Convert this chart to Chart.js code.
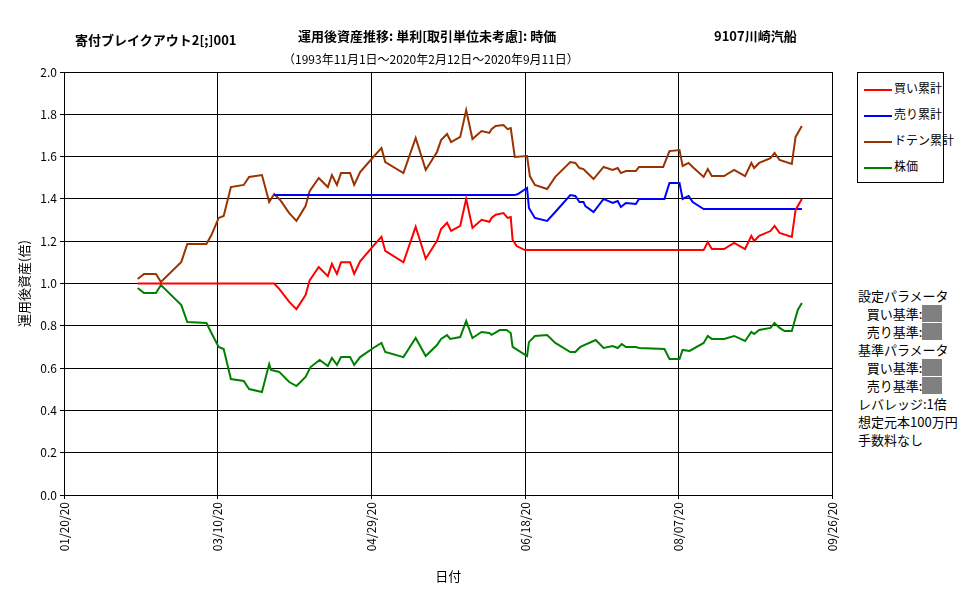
<!DOCTYPE html>
<html>
<head>
<meta charset="utf-8">
<script src="https://cdn.jsdelivr.net/npm/chart.js@4"></script>
<style>
body { margin:0; background:#fff; font-family:"Noto Sans CJK JP", sans-serif; color:#000; }
#wrap { position:relative; width:977px; height:600px; }
#c { position:absolute; left:0; top:0; }
.t { position:absolute; font-size:13px; white-space:nowrap; }
.b { font-weight:bold; }
#legend { position:absolute; left:857px; top:72px; width:85px; height:109px; border:1px solid #000; font-size:12px; }
#legend div { position:absolute; left:6px; white-space:nowrap; }
#legend span { display:inline-block; width:28px; height:2px; vertical-align:middle; margin-right:2px; }
#params { position:absolute; left:858px; top:287px; font-size:13px; line-height:18px; white-space:nowrap; }
.gray { display:inline-block; width:20px; height:17px; background:#808080; vertical-align:top; }
</style>
</head>
<body>
<div id="wrap">
<canvas id="c" width="850" height="600"></canvas>
<div class="t b" style="left:75px;top:30px;">寄付ブレイクアウト2[;]001</div>
<div class="t b" style="left:298px;top:26px;">運用後資産推移: 単利[取引単位未考慮]: 時価</div>
<div class="t b" style="left:714px;top:26px;">9107川崎汽船</div>
<div class="t" style="left:283px;top:50px;font-size:12px;">（1993年11月1日～2020年2月12日～2020年9月11日）</div>
<div id="legend"></div>
<div id="params">
設定パラメータ<br>
&nbsp;&nbsp;&nbsp;買い基準:<span class="gray"></span><br>
&nbsp;&nbsp;&nbsp;売り基準:<span class="gray"></span><br>
基準パラメータ<br>
&nbsp;&nbsp;&nbsp;買い基準:<span class="gray"></span><br>
&nbsp;&nbsp;&nbsp;売り基準:<span class="gray"></span><br>
レバレッジ:1倍<br>
想定元本100万円<br>
手数料なし
</div>
</div>
<script>
// x values = days since 01/20/20
const tickLabels = ['01/20/20', '03/10/20', '04/29/20', '06/18/20', '08/07/20', '09/26/20'];
const seriesNames = ['買い累計', '売り累計', 'ドテン累計', '株価'];
const seriesColors = ['#ff0000', '#0000ff', '#993300', '#008000'];

const buyDays = [23.5, 67.0, 68.6, 71.8, 74.1, 77.0, 78.3, 81.2, 84.1, 85.4, 87.0, 88.3, 91.2, 92.5, 94.4, 98.6, 101.2, 102.4, 108.2, 112.1, 115.3, 118.9, 120.2, 122.1, 123.4, 126.3, 128.2, 130.2, 133.1, 135.6, 136.3, 137.6, 140.1, 141.4, 142.4, 143.0, 144.3, 146.9, 203.9, 205.2, 206.5, 210.4, 213.6, 217.1, 219.1, 220.0, 221.6, 225.2, 226.5, 228.1, 232.0, 233.2, 235.2];
const buyVals = [1.0, 1.0, 0.975, 0.913, 0.879, 0.945, 1.015, 1.078, 1.035, 1.093, 1.045, 1.100, 1.100, 1.045, 1.105, 1.178, 1.221, 1.154, 1.100, 1.268, 1.117, 1.202, 1.258, 1.287, 1.249, 1.273, 1.400, 1.263, 1.301, 1.292, 1.310, 1.325, 1.333, 1.310, 1.314, 1.206, 1.177, 1.158, 1.158, 1.196, 1.163, 1.163, 1.192, 1.163, 1.225, 1.201, 1.225, 1.248, 1.272, 1.239, 1.220, 1.348, 1.400];

const sellDays = [67.0, 143.7, 144.7, 147.6, 148.2, 150.1, 154.0, 156.6, 161.4, 163.0, 164.3, 165.6, 166.2, 168.8, 172.0, 174.9, 176.5, 177.5, 179.1, 182.3, 183.3, 191.4, 193.0, 196.2, 197.2, 199.1, 200.4, 203.9, 235.2];
const sellVals = [1.418, 1.418, 1.423, 1.452, 1.357, 1.310, 1.296, 1.338, 1.418, 1.414, 1.385, 1.385, 1.366, 1.338, 1.400, 1.381, 1.390, 1.362, 1.381, 1.376, 1.400, 1.400, 1.475, 1.475, 1.400, 1.414, 1.385, 1.352, 1.352];

const dotenDays = [23.5, 25.5, 29.3, 30.9, 37.4, 39.3, 45.4, 47.0, 49.3, 50.9, 53.2, 57.3, 59.0, 63.1, 65.4, 67.0, 68.9, 71.8, 74.1, 77.0, 78.3, 81.2, 84.1, 85.4, 87.0, 88.3, 91.2, 92.5, 94.4, 98.6, 101.2, 102.4, 108.2, 112.1, 115.3, 118.9, 120.2, 122.1, 123.4, 126.3, 128.2, 130.2, 133.1, 135.6, 136.3, 137.6, 140.1, 141.4, 142.4, 143.7, 147.6, 148.5, 150.1, 154.0, 156.6, 161.4, 163.0, 164.3, 165.6, 166.2, 168.8, 172.0, 174.9, 176.5, 177.5, 179.1, 182.3, 183.3, 191.0, 193.0, 196.2, 197.2, 199.1, 200.4, 203.9, 205.2, 206.5, 210.4, 213.6, 217.1, 219.1, 220.0, 221.6, 225.2, 226.5, 228.1, 232.0, 233.2, 235.2];
const dotenVals = [1.021, 1.045, 1.045, 1.007, 1.102, 1.187, 1.187, 1.229, 1.310, 1.319, 1.456, 1.466, 1.504, 1.513, 1.385, 1.423, 1.395, 1.333, 1.296, 1.366, 1.437, 1.499, 1.456, 1.513, 1.466, 1.522, 1.522, 1.466, 1.527, 1.598, 1.641, 1.574, 1.522, 1.688, 1.537, 1.622, 1.678, 1.707, 1.669, 1.693, 1.820, 1.683, 1.721, 1.712, 1.730, 1.745, 1.749, 1.730, 1.735, 1.598, 1.603, 1.508, 1.466, 1.447, 1.504, 1.574, 1.570, 1.546, 1.541, 1.532, 1.494, 1.551, 1.537, 1.546, 1.522, 1.532, 1.532, 1.551, 1.551, 1.626, 1.631, 1.556, 1.570, 1.551, 1.504, 1.541, 1.508, 1.508, 1.537, 1.508, 1.570, 1.546, 1.570, 1.593, 1.617, 1.584, 1.565, 1.693, 1.745];

const stockDays = [23.5, 25.5, 29.3, 30.9, 37.4, 39.3, 45.4, 47.0, 49.3, 50.9, 53.2, 57.3, 59.0, 63.1, 65.4, 66.0, 68.6, 71.8, 74.1, 77.0, 78.6, 81.5, 84.1, 85.4, 87.0, 88.3, 91.2, 92.5, 94.4, 98.6, 101.2, 102.4, 108.2, 112.1, 115.3, 118.9, 120.2, 122.1, 123.1, 126.3, 128.2, 130.2, 133.1, 135.6, 136.3, 138.9, 141.1, 142.4, 143.0, 147.6, 148.2, 150.1, 154.0, 156.6, 161.4, 163.0, 164.6, 169.5, 172.0, 174.9, 176.5, 177.8, 179.1, 182.3, 183.3, 191.4, 193.0, 196.2, 197.2, 199.4, 203.9, 205.2, 206.5, 210.4, 213.6, 217.1, 219.1, 220.0, 221.6, 225.2, 226.5, 228.1, 229.7, 232.0, 233.9, 235.2];
const stockVals = [0.979, 0.955, 0.955, 0.993, 0.898, 0.818, 0.813, 0.766, 0.700, 0.690, 0.548, 0.539, 0.501, 0.487, 0.619, 0.591, 0.582, 0.534, 0.515, 0.558, 0.605, 0.638, 0.610, 0.648, 0.615, 0.652, 0.652, 0.615, 0.652, 0.695, 0.719, 0.676, 0.652, 0.742, 0.657, 0.709, 0.738, 0.756, 0.738, 0.747, 0.823, 0.742, 0.771, 0.766, 0.757, 0.780, 0.780, 0.766, 0.700, 0.657, 0.723, 0.752, 0.756, 0.719, 0.676, 0.676, 0.700, 0.733, 0.695, 0.704, 0.695, 0.714, 0.700, 0.700, 0.695, 0.690, 0.643, 0.643, 0.686, 0.681, 0.719, 0.752, 0.738, 0.738, 0.752, 0.728, 0.771, 0.761, 0.780, 0.790, 0.813, 0.790, 0.775, 0.775, 0.875, 0.908];

const pts = (d, v) => d.map((x, i) => ({ x: x, y: v[i] }));
const allSeries = [pts(buyDays, buyVals), pts(sellDays, sellVals), pts(dotenDays, dotenVals), pts(stockDays, stockVals)];

const legend = document.getElementById('legend');
seriesNames.forEach((n, i) => {
    const d = document.createElement('div');
    d.style.top = (6 + i * 26) + 'px';
    d.innerHTML = '<span style="background:' + seriesColors[i] + '"></span>' + n;
    legend.appendChild(d);
});

const font = { family: '"Noto Sans CJK JP", sans-serif', size: 12 };
new Chart(document.getElementById('c').getContext('2d'), {
    type: 'line',
    data: {
        datasets: allSeries.map((s, i) => ({
            label: seriesNames[i],
            data: s,
            borderColor: seriesColors[i],
            borderWidth: 2,
            pointRadius: 0,
            tension: 0
        }))
    },
    options: {
        responsive: false,
        animation: false,
        layout: { padding: { left: 12, right: 0, top: 72, bottom: 12 } },
        plugins: { legend: { display: false }, tooltip: { enabled: false } },
        scales: {
            x: {
                type: 'linear', min: 0, max: 245,
                afterBuildTicks: s => { s.ticks = tickLabels.map((t, i) => ({ value: i * 49 })); },
                afterFit: s => { s.height = 93; },
                ticks: { color: '#000', font: font, maxRotation: 90, minRotation: 90,
                    callback: v => tickLabels[Math.round(v / 49)] },
                grid: { color: '#000', drawTicks: true, tickLength: 4 },
                border: { color: '#000' },
                title: { display: true, text: '日付', color: '#000', font: { family: font.family, size: 13 } }
            },
            y: {
                min: 0, max: 2,
                afterFit: s => { s.width = 52; },
                ticks: { stepSize: 0.2, color: '#000', font: font, callback: v => v.toFixed(1) },
                grid: { color: '#000', tickLength: 4 },
                border: { color: '#000' },
                title: { display: true, text: '運用後資産(倍)', color: '#000', font: { family: font.family, size: 13 } }
            }
        }
    }
});
</script>
</body>
</html>
